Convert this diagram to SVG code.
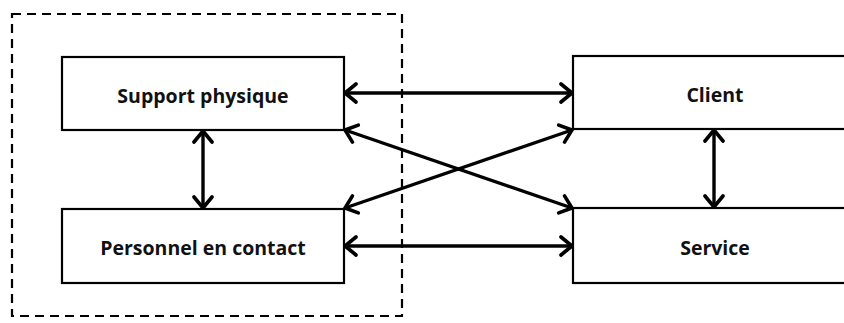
<svg xmlns="http://www.w3.org/2000/svg" width="844" height="323" viewBox="0 0 844 323">
<style>
.box{fill:#fff;stroke:#000;stroke-width:2.2}
.lbl{font-family:"Open Sans","Liberation Sans",sans-serif;font-weight:bold;font-size:19.5px;fill:#111;text-anchor:middle}
.con{stroke:#000;stroke-width:3.4;fill:none;marker-start:url(#ah);marker-end:url(#ah)}
</style>
<defs>
<marker id="ah" viewBox="-14 -12 16 24" refX="0" refY="0" markerWidth="16" markerHeight="24" markerUnits="userSpaceOnUse" orient="auto-start-reverse">
<path d="M-11,-9 L0,0 L-11,9" fill="none" stroke="#000" stroke-width="3.6" stroke-linecap="round" stroke-linejoin="miter"/>
</marker>
</defs>
<rect id="frontiere" x="12" y="14" width="390" height="302" fill="none" stroke="#000" stroke-width="2.2" stroke-dasharray="9,6"/>
<g id="connectors">
<line class="con" x1="345" y1="93" x2="572" y2="93"/>
<line class="con" x1="345" y1="246" x2="572" y2="246"/>
<line class="con" x1="345" y1="130" x2="572" y2="208"/>
<line class="con" x1="345" y1="208" x2="572" y2="130"/>
<line class="con" x1="203" y1="131" x2="203" y2="208"/>
<line class="con" x1="714" y1="130" x2="714" y2="207"/>
</g>
<g id="support">
<rect class="box" x="62" y="57" width="282" height="73"/>
<text class="lbl" x="203" y="103">Support physique</text>
</g>
<g id="personnel">
<rect class="box" x="62" y="209" width="282" height="74"/>
<text class="lbl" x="203" y="255">Personnel en contact</text>
</g>
<g id="client">
<rect class="box" x="573" y="56" width="284" height="73"/>
<text class="lbl" x="715" y="102">Client</text>
</g>
<g id="service">
<rect class="box" x="573" y="208" width="284" height="75"/>
<text class="lbl" x="715" y="255">Service</text>
</g>
</svg>
